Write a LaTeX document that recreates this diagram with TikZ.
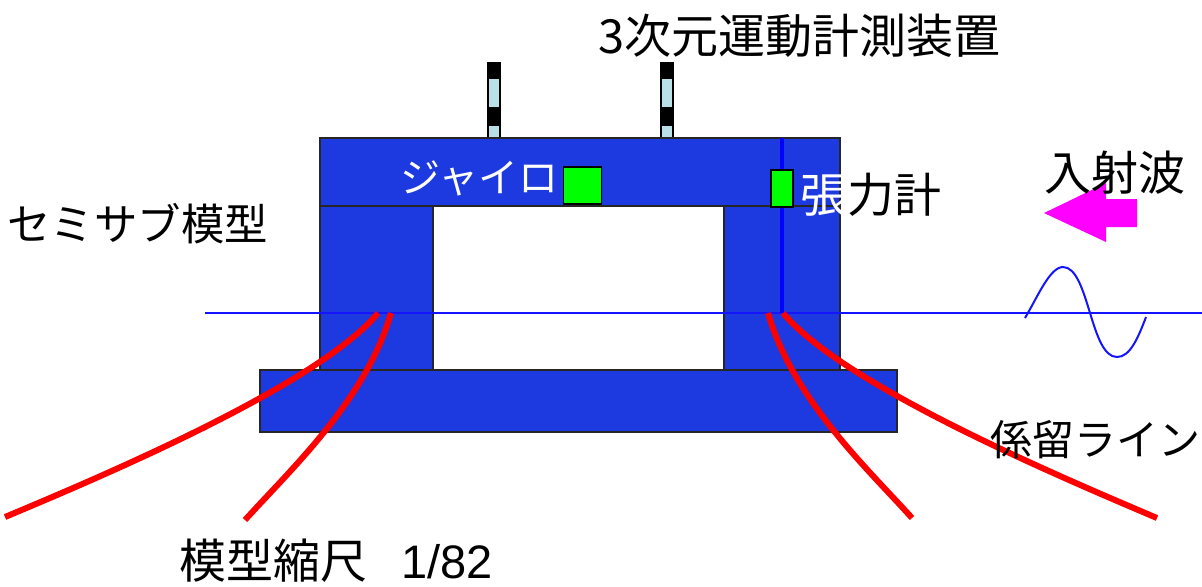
\documentclass[tikz,border=0pt]{standalone}
\usepackage{fontspec}
\setmainfont{Liberation Sans}
\newfontfamily\jp{Noto Sans CJK JP}
\definecolor{hull}{RGB}{28,58,224}
\definecolor{postblue}{RGB}{185,224,230}
\definecolor{gaugegreen}{RGB}{0,255,0}
\definecolor{wave}{RGB}{20,20,255}
\definecolor{arrowpink}{RGB}{255,0,255}
\tikzset{
  hullpart/.style={fill=hull, draw=black!85, line width=0.8pt},
  sensor/.style={fill=gaugegreen, draw=black, line width=0.8pt},
  mooring/.style={draw=red, line width=3pt},
  lbl/.style={inner sep=0pt, anchor=west},
  jpfont/.style={font=\jp\fontsize{#1}{#1}\selectfont},
}
\begin{document}
\begin{tikzpicture}[x=0.5pt,y=-0.5pt]
\useasboundingbox (0,0) rectangle (1202,586);

% marker posts of the motion capture system
\foreach \px in {487,660}{
  \fill[black] (\px,62) rectangle ++(13.5,76);
  \draw[fill=postblue, draw=black, line width=0.5pt] (\px+1.5,78) rectangle ++(10.5,29);
  \draw[fill=postblue, draw=black, line width=0.5pt] (\px+1.5,125) rectangle ++(10.5,13);
}

% semi-submersible model: deck, columns and lower hull
\draw[hullpart] (320,138) rectangle (840,206);
\draw[hullpart] (320,206) rectangle (433,370);
\draw[hullpart] (724,206) rectangle (840,370);
\draw[hullpart] (260,370) rectangle (897,432);

% still water level and tension line
\coordinate (wlL) at (205,313);
\coordinate (wlR) at (1202,313);
\draw[wave, line width=1.2pt] (wlL) -- (wlR);
\coordinate (tTop) at (782,138);
\coordinate (tBot) at (782,313);
\draw[blue, line width=2pt] (tTop) -- (tBot);

% gyro and tension meter
\node[sensor, minimum width=19pt, minimum height=18.5pt, inner sep=0pt] (gyro) at (582.5,185.5) {};
\node[sensor, minimum width=11pt, minimum height=18.5pt, inner sep=0pt] (tension) at (782,188.5) {};

% mooring lines
\draw[mooring] (378,313) .. controls (318,385) and (105,475) .. (5,517);
\draw[mooring] (391,313) .. controls (366,400) and (290,470) .. (245,520);
\draw[mooring] (768,313) .. controls (793,400) and (869,470) .. (912,518);
\draw[mooring] (783,313) .. controls (843,385) and (1056,475) .. (1157,518);

% incident wave
\draw[wave, line width=1pt] (1025,318)
  .. controls (1038,296) and (1050,267) .. (1063,267)
  .. controls (1076,267) and (1083,290) .. (1090,313)
  .. controls (1097,336) and (1104,357) .. (1117,357)
  .. controls (1130,357) and (1138,338) .. (1146,317);
\fill[arrowpink] (1044,213) -- (1106,183) -- (1106,199) -- (1137,199)
  -- (1137,227) -- (1106,227) -- (1106,242) -- cycle;

% labels
\node[lbl, jpfont=23.5] (title) at (598,36) {3次元運動計測装置};
\node[lbl, jpfont=20, text=white] (gyrolbl) at (400,178) {ジャイロ};
\node[lbl, jpfont=23.5] (tenslbl) at (800,195) {{\color{white}張}力計};
\node[lbl, jpfont=21.7] (model) at (7,224) {セミサブ模型};
\node[lbl, jpfont=23.5] (incident) at (1044,173) {入射波};
\node[lbl, jpfont=21] (moorlbl) at (990,440) {係留ライン};
\node[lbl, jpfont=23.5] (scale) at (179,561) {模型縮尺\hspace{17pt}{\rmfamily 1/82}};
\end{tikzpicture}
\end{document}
